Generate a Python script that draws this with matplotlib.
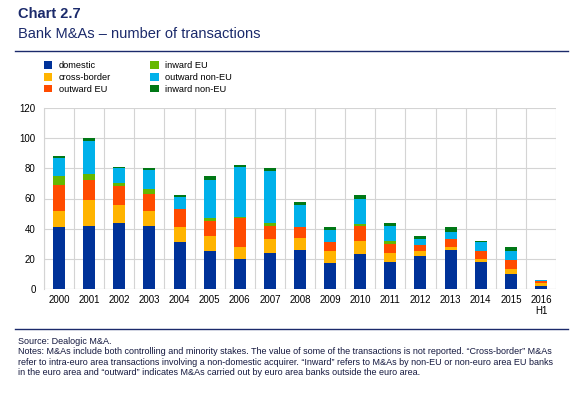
import numpy as np
import matplotlib.pyplot as plt
from matplotlib.lines import Line2D

plt.rcParams['font.family'] = ['Liberation Sans', 'DejaVu Sans']

# ── Data (number of transactions) ─────────────────────────────
years = ['2000', '2001', '2002', '2003', '2004', '2005', '2006', '2007', '2008',
         '2009', '2010', '2011', '2012', '2013', '2014', '2015', '2016\nH1']
domestic = [41, 42, 44, 42, 31, 25, 20, 24, 26, 17, 23, 18, 22, 26, 18, 10, 2]
cross_border = [11, 17, 12, 10, 10, 10, 8, 9, 8, 8, 9, 6, 3, 2, 2, 3, 2]
outward_eu = [17, 13, 12, 11, 12, 10, 19, 9, 7, 6, 10, 6, 4, 5, 5, 6, 1]
inward_eu = [6, 4, 2, 3, 0, 2, 1, 2, 0, 0, 1, 2, 0, 0, 0, 0, 0]
outward_non_eu = [12, 22, 10, 13, 8, 25, 33, 34, 15, 8, 17, 10, 4, 5, 6, 6, 1]
inward_non_eu = [1, 2, 1, 1, 1, 3, 1, 2, 2, 2, 2, 2, 2, 3, 1, 3, 0]

series = [
    ('domestic', domestic, '#003299'),
    ('cross-border', cross_border, '#FFB400'),
    ('outward EU', outward_eu, '#FF4B00'),
    ('inward EU', inward_eu, '#65B800'),
    ('outward non-EU', outward_non_eu, '#00B1EA'),
    ('inward non-EU', inward_non_eu, '#007816'),
]

navy = '#1B2A6B'

fig = plt.figure(figsize=(5.8, 3.93), dpi=100)
ax = fig.add_axes([44 / 580, 1 - 289 / 393, 512 / 580, 181 / 393])

x = np.arange(len(years))
bottom = np.zeros(len(years))
handles = []
for name, vals, col in series:
    vals = np.array(vals, dtype=float)
    b = ax.bar(x, vals, width=0.4, bottom=bottom, color=col, label=name, zorder=3)
    bottom += vals
    handles.append(b)

ax.set_xlim(-0.5, len(years) - 0.5)
ax.set_ylim(0, 120)
ax.set_yticks(range(0, 121, 20))
ax.set_xticks(x)
ax.set_xticklabels(years, fontsize=7)
ax.tick_params(axis='y', labelsize=7, length=0, pad=6)
ax.tick_params(axis='x', length=0, pad=4)

# gridlines: horizontal at ticks, vertical between categories
ax.yaxis.grid(True, color='#D4D4D4', linewidth=0.8, zorder=0)
for xb in np.arange(-0.5, len(years), 1.0):
    ax.axvline(xb, color='#D4D4D4', linewidth=0.8, zorder=0)
for side in ['top', 'right', 'bottom']:
    ax.spines[side].set_visible(False)
ax.spines['left'].set_color('#D4D4D4')
ax.axhline(0, color='#D4D4D4', linewidth=0.8, zorder=1)

# ── Titles and rules ──────────────────────────────────────────
fig.text(18 / 580, 1 - 14 / 393, 'Chart 2.7', fontsize=10.5, fontweight='bold',
         color=navy, va='center')
fig.text(18 / 580, 1 - 34 / 393, 'Bank M&As \u2013 number of transactions',
         fontsize=10.5, color=navy, va='center')
fig.add_artist(Line2D([15 / 580, 568 / 580], [1 - 51 / 393, 1 - 51 / 393],
                      color=navy, linewidth=1))
fig.add_artist(Line2D([15 / 580, 568 / 580], [1 - 329 / 393, 1 - 329 / 393],
                      color=navy, linewidth=1))

fig.legend(handles=handles, loc='upper left', bbox_to_anchor=(44 / 580, 1 - 61 / 393),
           ncol=2, frameon=False, fontsize=6.7, handlelength=0.9, handleheight=0.9,
           columnspacing=4.2, labelspacing=0.3, handletextpad=0.7,
           borderaxespad=0, borderpad=0)

notes = ('Source: Dealogic M&A.\n'
         'Notes: M&As include both controlling and minority stakes. The value of some of the '
         'transactions is not reported. \u201cCross-border\u201d M&As\n'
         'refer to intra-euro area transactions involving a non-domestic acquirer. '
         '\u201cInward\u201d refers to M&As by non-EU or non-euro area EU banks\n'
         'in the euro area and \u201coutward\u201d indicates M&As carried out by euro area '
         'banks outside the euro area.')
fig.text(18 / 580, 1 - 337 / 393, notes, fontsize=6.45, color='#14183F', va='top',
         linespacing=1.2)

fig.savefig('out.png', dpi=100)
